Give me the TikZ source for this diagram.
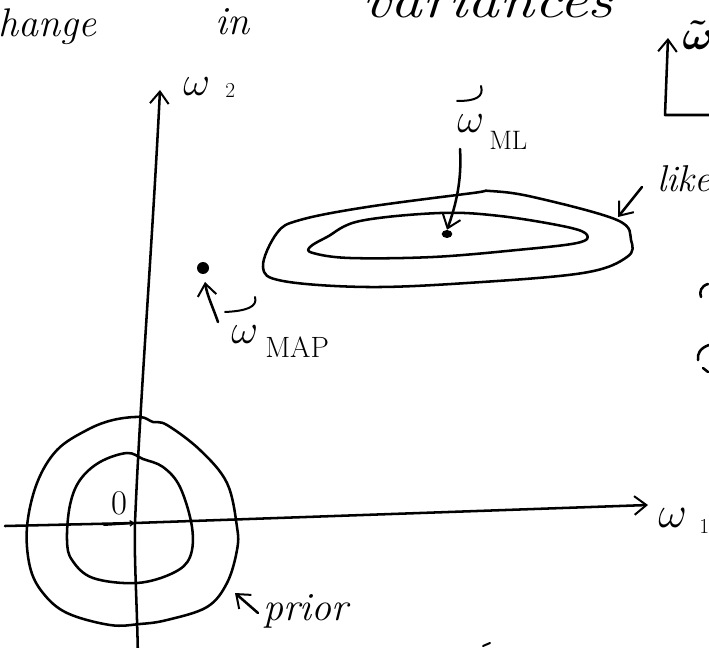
\documentclass[tikz,border=0pt]{standalone}
\usepackage{amsmath}
\usetikzlibrary{arrows.meta,shapes.geometric}
\newcommand{\bigw}[1]{\scalebox{1.5}{$#1$}}
\begin{document}
\begin{tikzpicture}[x=0.75pt,y=-0.75pt, line cap=round, line join=round,
  pen/.style={line width=1.9pt},
  thinpen/.style={line width=1.5pt},
  tip/.style={-{Straight Barb[length=9pt,width=14pt,line width=1.5pt]}},
  smalltip/.style={-{Straight Barb[length=3pt,width=4pt,line width=1pt]}},
  hand/.style={inner sep=0pt, anchor=base west, font=\fontsize{30}{30}\selectfont\itshape},
  greek/.style={inner sep=0pt, anchor=base west, font=\fontsize{20}{20}\selectfont},
  sub/.style={inner sep=0pt, anchor=base west, font=\fontsize{20}{20}\selectfont},
  dot/.style={circle, fill=black, inner sep=0pt}]
\useasboundingbox (0,0) rectangle (709,648);
\clip (0,0) rectangle (709,648);

% ---- cropped heading text ----
\node[hand] (t1) at (-2,37) {hange};
\node[hand] (t2) at (215,35) {in};
\node[hand, font=\fontsize{38}{38}\selectfont\itshape] (t3) at (362,18) {\scalebox{1.25}[1]{variances}};

% ---- axes ----
\coordinate (w2bot) at (138,660);
\coordinate (origin) at (135,523);
\coordinate (w2top) at (160,90);
\coordinate (w1left) at (5,526);
\coordinate (w1right) at (648,505);
\draw[pen] (w2bot) .. controls (137,600) and (134,560) .. (origin);
\draw[pen, tip] (origin) .. controls (140,400) and (152,250) .. (w2top);
\draw[pen] (w1left) -- (origin);
\draw[pen, tip] (origin) -- (w1right);
\node[greek] (w2) at (183,96) {\bigw{\omega}};
\node[sub, font=\fontsize{16}{16}\selectfont] (w2s) at (225,98) {2};
\node[greek] (w1) at (658,527) {\scalebox{1.6}{$\omega$}};
\node[sub, font=\fontsize{16}{16}\selectfont] (w1s) at (699,533) {1};

% ---- prior contours ----
\draw[pen] plot[smooth cycle, tension=0.6] coordinates {
  (140,417) (153,422) (167,425) (200,450) (227,483) (237,527) (237,550)
  (227,583) (207,607) (167,620) (140,624) (110,625) (67,613) (43,593)
  (30,567) (27,527) (37,483) (57,450) (87,430) (113,420)};
\draw[pen] plot[smooth cycle, tension=0.6] coordinates {
  (127,453) (143,459) (163,467) (180,487) (192,527) (190,557) (173,573)
  (137,583) (93,578) (72,560) (67,540) (70,505) (80,480) (100,462)};
\node[inner sep=0pt, font=\fontsize{26}{26}\selectfont] (zero) at (119,503) {0};
\coordinate (smallstart) at (104,525);
\draw[thinpen, smalltip] (smallstart) -- (origin);

% ---- prior label ----
\node[hand] (prior) at (263,620) {prior};
\coordinate (priorstart) at (258,613);
\coordinate (priortip) at (235,593);
\draw[pen, tip] (priorstart) -- (priortip);

% ---- likelihood contours ----
\draw[pen] plot[smooth cycle, tension=0.6] coordinates {
  (263,267) (277,233) (300,220) (367,207) (473,193) (490,191) (533,197)
  (617,220) (631,240) (627,257) (583,273) (467,283) (367,287) (283,281)};
\draw[pen] plot[smooth cycle, tension=0.6] coordinates {
  (310,247) (327,237) (360,221) (440,213) (500,216) (567,227) (587,235)
  (577,243) (517,250) (433,257) (350,258) (313,253)};
\node[ellipse, fill=black, inner sep=0pt, minimum width=8pt, minimum height=6pt] (mldot) at (447,234) {};
\node[hand, font=\fontsize{28}{28}\selectfont\itshape] (lik) at (657,192) {likelihood};
\coordinate (likstart) at (642,187);
\coordinate (liktip) at (618,217);
\draw[pen, tip] (likstart) -- (liktip);

% ---- w_ML ----
\node[greek] (wml) at (457,133) {\bigw{\omega}};
\draw[thinpen] (481,86) .. controls (484,97) and (476,101) .. (457,101);
\node[sub] (mlsub) at (489,150) {ML};
\coordinate (mlstart) at (460,149);
\draw[pen, tip] (mlstart) .. controls (462,180) and (456,205) .. (mldot.north);

% ---- w_MAP ----
\node[dot, minimum size=9pt] (mapdot) at (203,268) {};
\node[greek] (wmap) at (231,343) {\bigw{\omega}};
\draw[thinpen] (255,297) .. controls (258,307) and (246,311) .. (225,312);
\node[sub, font=\fontsize{22}{22}\selectfont] (mapsub) at (265,357) {MAP};
\coordinate (mapstart) at (218,322);
\draw[pen, tip] (mapstart) .. controls (212,305) and (207,295) .. (205,282);

% ---- top-right corner ----
\coordinate (cornerright) at (715,115);
\coordinate (corner) at (665,115);
\coordinate (cornertip) at (668,38);
\draw[pen, tip] (cornerright) -- (corner) -- (cornertip);
\node[greek] (wbold) at (682,50) {\bigw{\boldsymbol{\tilde{\omega}}}};

% ---- cropped marks at right edge ----
\draw[pen] (708,284) .. controls (701,286) and (699,292) .. (701,297);
\draw[pen] (709,345) .. controls (700,348) and (697,354) .. (698,360);
\draw[pen] (703,368) -- (708,372);
\draw[thinpen] (483,646) -- (490,643);
\end{tikzpicture}
\end{document}
